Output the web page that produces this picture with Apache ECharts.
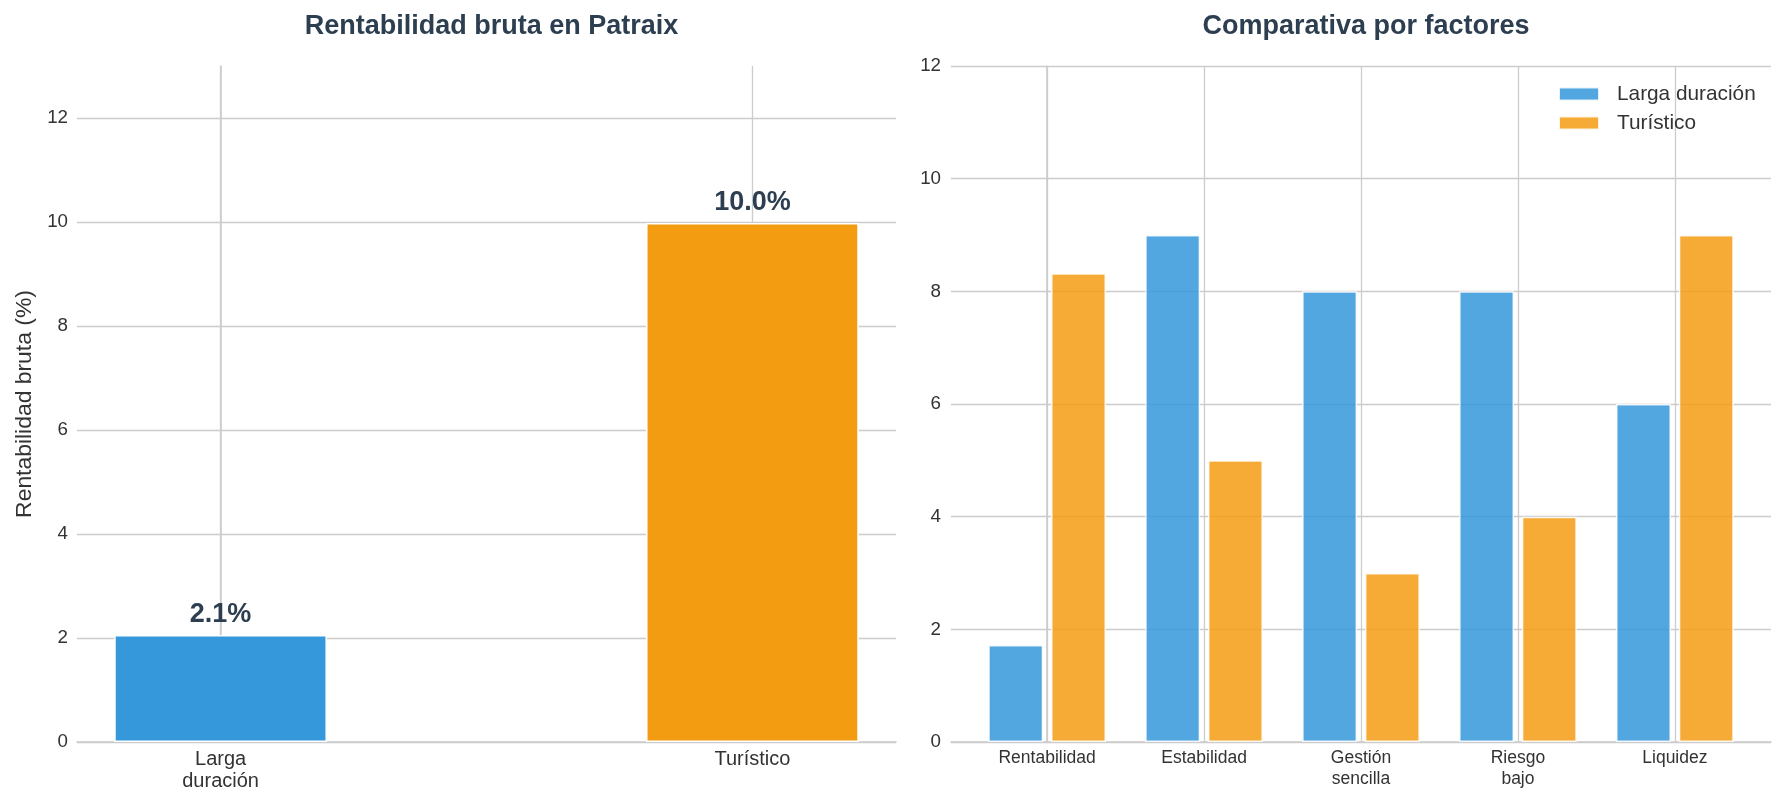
<!DOCTYPE html>
<html>
<head>
<meta charset="utf-8">
<script src="https://cdn.jsdelivr.net/npm/echarts@6/dist/echarts.min.js"></script>
<style>
  html, body { margin: 0; padding: 0; background: #ffffff; }
  #chart { width: 1787px; height: 806px; }
</style>
</head>
<body>
<div id="chart"></div>
<script>
// ---- Data ----
const rentCategories = ['Larga\nduración', 'Turístico'];
const rentValues = [2.06, 9.98];
const rentColors = ['#3498db', '#f39c12'];
const rentYTicks = [0, 2, 4, 6, 8, 10, 12];

const factorCategories = ['Rentabilidad', 'Estabilidad', 'Gestión\nsencilla', 'Riesgo\nbajo', 'Liquidez'];
const longTermScores = [1.72, 9, 8, 8, 6];
const touristScores = [8.32, 5, 3, 4, 9];
const factorYTicks = [0, 2, 4, 6, 8, 10, 12];
const seriesNames = ['Larga duración', 'Turístico'];

// ---- Layout ----
const W = 1787, H = 806;
const FONT = 'Liberation Sans, Arial, sans-serif';
const grid0 = { left: 77, right: W - 896, top: 66, bottom: H - 742 };
const grid1 = { left: 951, right: W - 1771, top: 66, bottom: H - 742 };
const x0Min = -0.27, x0Max = 1.27;
const x1Min = -0.6125, x1Max = 4.6125;
const pxPerUnit0 = (W - grid0.left - grid0.right) / (x0Max - x0Min);
const pxPerUnit1 = (W - grid1.left - grid1.right) / (x1Max - x1Min);
const gridColor = '#cccccc';
const textColor = '#333333';

const idx0 = rentCategories.map((_, i) => i);
const idx1 = factorCategories.map((_, i) => i);

const option = {
  animation: false,
  backgroundColor: '#ffffff',
  textStyle: { fontFamily: FONT },
  title: [
    {
      text: 'Rentabilidad bruta en Patraix',
      left: (grid0.left + (W - grid0.right)) / 2,
      top: 8,
      textAlign: 'center',
      textStyle: { fontFamily: FONT, fontSize: 27, fontWeight: 'bold', color: '#2c3e50' }
    },
    {
      text: 'Comparativa por factores',
      left: (grid1.left + (W - grid1.right)) / 2,
      top: 8,
      textAlign: 'center',
      textStyle: { fontFamily: FONT, fontSize: 27, fontWeight: 'bold', color: '#2c3e50' }
    }
  ],
  legend: {
    data: seriesNames,
    orient: 'vertical',
    left: 1553,
    top: 77,
    icon: 'rect',
    itemWidth: 40,
    itemHeight: 13,
    itemGap: 5,
    selectedMode: false,
    textStyle: { fontFamily: FONT, fontSize: 20.8, color: textColor, lineHeight: 24, padding: [0, 0, 0, 13] }
  },
  grid: [
    Object.assign({}, grid0),
    Object.assign({}, grid1)
  ],
  xAxis: [
    {
      type: 'value', gridIndex: 0, min: x0Min, max: x0Max,
      axisLine: { show: true, onZero: false, lineStyle: { color: gridColor, width: 1.6 } },
      axisTick: { show: false, customValues: idx0 },
      axisLabel: {
        customValues: idx0,
        formatter: v => rentCategories[Math.round(v)],
        fontFamily: FONT, fontSize: 20, lineHeight: 22, color: textColor, margin: 6
      },
      splitLine: { show: true, lineStyle: { color: gridColor, width: 1.3 } }
    },
    {
      type: 'value', gridIndex: 1, min: x1Min, max: x1Max,
      axisLine: { show: true, onZero: false, lineStyle: { color: gridColor, width: 1.6 } },
      axisTick: { show: false, customValues: idx1 },
      axisLabel: {
        customValues: idx1,
        formatter: v => factorCategories[Math.round(v)],
        fontFamily: FONT, fontSize: 17.5, lineHeight: 21, color: textColor, margin: 6
      },
      splitLine: { show: true, lineStyle: { color: gridColor, width: 1.3 } }
    }
  ],
  yAxis: [
    {
      type: 'value', gridIndex: 0, min: 0, max: 13, interval: 2,
      name: 'Rentabilidad bruta (%)',
      nameLocation: 'middle', nameGap: 41,
      nameTextStyle: { fontFamily: FONT, fontSize: 22.9, color: textColor },
      axisLine: { show: true, lineStyle: { color: gridColor, width: 1.6 } },
      axisTick: { show: false, customValues: rentYTicks },
      axisLabel: { customValues: rentYTicks, fontFamily: FONT, fontSize: 18.75, color: textColor, margin: 9 },
      splitLine: { show: true, lineStyle: { color: gridColor, width: 1.3 } }
    },
    {
      type: 'value', gridIndex: 1, min: 0, max: 12, interval: 2,
      axisLine: { show: true, lineStyle: { color: gridColor, width: 1.6 } },
      axisTick: { show: false, customValues: factorYTicks },
      axisLabel: { customValues: factorYTicks, fontFamily: FONT, fontSize: 18.75, color: textColor, margin: 10 },
      splitLine: { show: true, lineStyle: { color: gridColor, width: 1.3 } }
    }
  ],
  series: [
    {
      type: 'bar', xAxisIndex: 0, yAxisIndex: 0,
      barWidth: 0.4 * pxPerUnit0,
      data: rentValues.map((v, i) => ({ value: [i, v], itemStyle: { color: rentColors[i] } })),
      itemStyle: { borderColor: '#ffffff', borderWidth: 1.5 },
      label: {
        show: true, position: 'top', distance: 7,
        formatter: p => p.value[1].toFixed(1) + '%',
        fontFamily: FONT, fontSize: 27, fontWeight: 'bold', color: '#2c3e50'
      }
    },
    {
      name: seriesNames[0], type: 'bar', xAxisIndex: 1, yAxisIndex: 1,
      barWidth: 0.35 * pxPerUnit1, barGap: '-100%',
      data: longTermScores.map((v, i) => [i - 0.2, v]),
      itemStyle: { color: '#3498db', opacity: 0.85, borderColor: '#ffffff', borderWidth: 1.5 }
    },
    {
      name: seriesNames[1], type: 'bar', xAxisIndex: 1, yAxisIndex: 1,
      barWidth: 0.35 * pxPerUnit1, barGap: '-100%',
      data: touristScores.map((v, i) => [i + 0.2, v]),
      itemStyle: { color: '#f39c12', opacity: 0.85, borderColor: '#ffffff', borderWidth: 1.5 }
    }
  ]
};

const chart = echarts.init(document.getElementById('chart'), null, { renderer: 'canvas', width: W, height: H });
chart.setOption(option);
</script>
</body>
</html>
